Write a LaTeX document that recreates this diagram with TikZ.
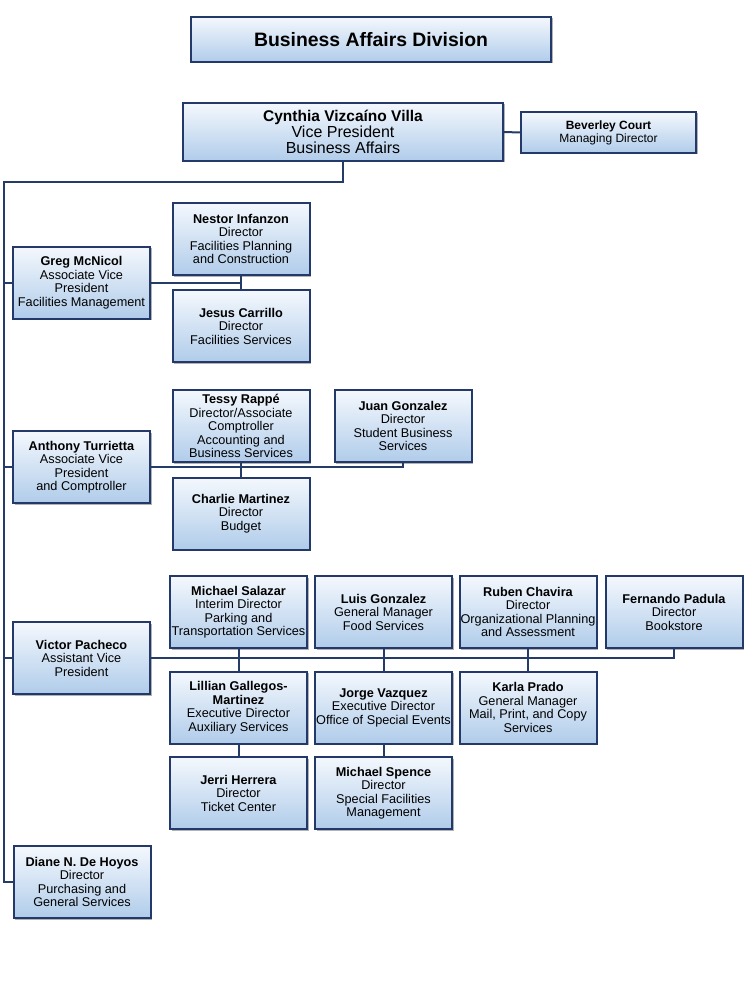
\documentclass[tikz,border=0pt]{standalone}
\usepackage{fontspec}
\setmainfont{Liberation Sans}
\usetikzlibrary{shadows}
\definecolor{boxedge}{HTML}{22396A}
\definecolor{linkline}{HTML}{253B68}
\definecolor{shadetop}{HTML}{F4F8FD}
\definecolor{shadebot}{HTML}{B0CCEA}
\begin{document}
\begin{tikzpicture}[x=1pt,y=-1pt,
	orgbox/.style={draw=boxedge,line width=2pt,top color=shadetop,bottom color=shadebot,
		drop shadow={shadow xshift=1.5pt,shadow yshift=-1.5pt,opacity=0.3,fill=black},
		align=center,inner sep=0pt,minimum width=137,minimum height=72,
		font=\fontsize{12.7}{13.5}\selectfont},
	link/.style={draw=linkline,line width=2pt,line cap=rect}]
	\useasboundingbox (0,0) rectangle (745,1000);

	\node[orgbox,minimum width=360,minimum height=45,font=\bfseries\fontsize{19.4}{22}\selectfont] (title) at (371,39.5) {Business Affairs Division};
	\node[orgbox,minimum width=320,minimum height=58,font=\fontsize{16}{16}\selectfont] (vp) at (343,132)
		{\textbf{\fontsize{15.5}{16}\selectfont Cynthia Vizcaíno Villa}\\Vice President\\Business Affairs};
	\node[orgbox,minimum width=175,minimum height=41,font=\fontsize{12}{13}\selectfont] (court) at (608.5,132.5)
		{\textbf{Beverley Court}\\Managing Director};

	% left column
	\node[orgbox] (mcnicol) at (81.5,282.5) {\textbf{Greg McNicol}\\Associate Vice\\President\\Facilities Management};
	\node[orgbox] (turrietta) at (81.5,467) {\textbf{Anthony Turrietta}\\Associate Vice\\President\\and Comptroller};
	\node[orgbox] (pacheco) at (81.5,658) {\textbf{Victor Pacheco}\\Assistant Vice\\President};
	\node[orgbox] (dehoyos) at (82,882) {\textbf{Diane N. De Hoyos}\\Director\\Purchasing and\\General Services};

	% facilities
	\node[orgbox] (infanzon) at (241,239) {\textbf{Nestor Infanzon}\\Director\\Facilities Planning\\and Construction};
	\node[orgbox] (carrillo) at (241,326) {\textbf{Jesus Carrillo}\\Director\\Facilities Services};

	% comptroller
	\node[orgbox] (rappe) at (241,426) {\textbf{Tessy Rappé}\\Director/Associate\\Comptroller\\Accounting and\\Business Services};
	\node[orgbox] (jgonzalez) at (403,426) {\textbf{Juan Gonzalez}\\Director\\Student Business\\Services};
	\node[orgbox] (martinez) at (241,513.5) {\textbf{Charlie Martinez}\\Director\\Budget};

	% auxiliary
	\node[orgbox] (salazar) at (238.5,612) {\textbf{Michael Salazar}\\Interim Director\\Parking and\\Transportation Services};
	\node[orgbox] (lgonzalez) at (383.5,612) {\textbf{Luis Gonzalez}\\General Manager\\Food Services};
	\node[orgbox] (chavira) at (528,612) {\textbf{Ruben Chavira}\\Director\\Organizational Planning\\and Assessment};
	\node[orgbox] (padula) at (674,612) {\textbf{Fernando Padula}\\Director\\Bookstore};
	\node[orgbox] (gallegos) at (238.5,707.5) {\textbf{Lillian Gallegos-}\\\textbf{Martinez}\\Executive Director\\Auxiliary Services};
	\node[orgbox] (vazquez) at (383.5,707.5) {\textbf{Jorge Vazquez}\\Executive Director\\Office of Special Events};
	\node[orgbox] (prado) at (528,707.5) {\textbf{Karla Prado}\\General Manager\\Mail, Print, and Copy\\Services};
	\node[orgbox] (herrera) at (238.5,793) {\textbf{Jerri Herrera}\\Director\\Ticket Center};
	\node[orgbox] (spence) at (383.5,793) {\textbf{Michael Spence}\\Director\\Special Facilities\\Management};

	\coordinate (spine) at (4,182);
	\draw[link] (vp.east) -- (court.west);
	\draw[link] (vp.south) |- (spine) |- (dehoyos.west);
	\foreach \who in {mcnicol,turrietta,pacheco}
		\draw[link] (spine |- \who.west) -- (\who.west);
	\draw[link] (mcnicol.east) -- (mcnicol.east -| infanzon.south);
	\draw[link] (turrietta.east) -| (jgonzalez.south);
	\draw[link] (pacheco.east) -| (padula.south);
	\foreach \up/\down in {infanzon/carrillo,rappe/martinez,salazar/gallegos,gallegos/herrera,
		lgonzalez/vazquez,vazquez/spence,chavira/prado}
		\draw[link] (\up.south) -- (\down.north);
\end{tikzpicture}
\end{document}
